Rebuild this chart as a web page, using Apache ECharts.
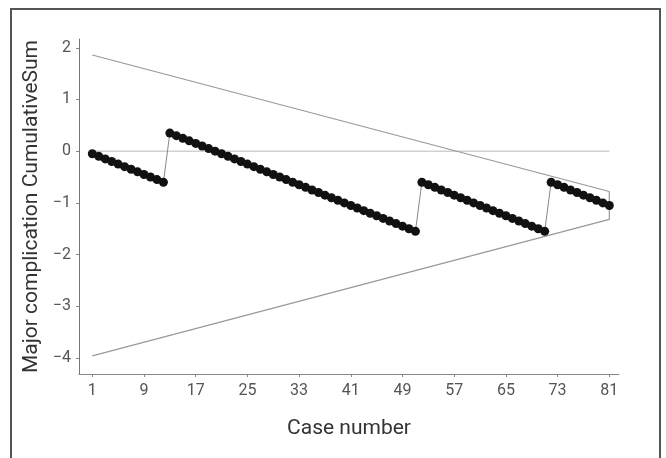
<!DOCTYPE html>
<html>
<head>
<meta charset="utf-8">
<script src="https://cdn.jsdelivr.net/npm/echarts@6/dist/echarts.min.js"></script>
<style>
  html, body { margin: 0; padding: 0; background: #fff; }
  #chart { width: 666px; height: 458px; }
</style>
</head>
<body>
<div id="chart"></div>
<script>
// cumulative sum per case (case number = index + 1)
var cusum = [
    -0.05, -0.10, -0.15, -0.20, -0.25, -0.30, -0.35, -0.40, -0.45, -0.50, -0.55, -0.60,
    0.35, 0.30, 0.25, 0.20, 0.15, 0.10, 0.05, 0.00, -0.05, -0.10, -0.15, -0.20, -0.25,
    -0.30, -0.35, -0.40, -0.45, -0.50, -0.55, -0.60, -0.65, -0.70, -0.75, -0.80, -0.85,
    -0.90, -0.95, -1.00, -1.05, -1.10, -1.15, -1.20, -1.25, -1.30, -1.35, -1.40, -1.45,
    -1.50, -1.55,
    -0.60, -0.65, -0.70, -0.75, -0.80, -0.85, -0.90, -0.95, -1.00, -1.05, -1.10, -1.15,
    -1.20, -1.25, -1.30, -1.35, -1.40, -1.45, -1.50, -1.55,
    -0.60, -0.65, -0.70, -0.75, -0.80, -0.85, -0.90, -0.95, -1.00, -1.05
];
// V-mask boundary: upper line, closing edge at last case, lower line
var maskLine = [[1, 1.86], [81, -0.78], [81, -1.32], [1, -3.96]];
var zeroLine = [[1, 0], [81, 0]];
var xTicks = [1, 9, 17, 25, 33, 41, 49, 57, 65, 73, 81];
var yTicks = [-4, -3, -2, -1, 0, 1, 2];

var myChart = echarts.init(document.getElementById('chart'));
var font = 'Roboto, "Liberation Sans", sans-serif';

var points = cusum.map(function (v, i) {
    return [i + 1, v];
});

var option = {
    animation: false,
    grid: { left: 79, right: 47, top: 39, bottom: 84 },
    graphic: [{
        type: 'rect',
        shape: { x: 11, y: 9, width: 649, height: 470 },
        style: { fill: 'none', stroke: '#555', lineWidth: 2 },
        silent: true
    }],
    xAxis: {
        type: 'value',
        min: -1.06,
        max: 82.5,
        name: 'Case number',
        nameLocation: 'middle',
        nameGap: 44,
        nameTextStyle: { fontFamily: font, fontSize: 21, color: '#333' },
        splitLine: { show: false },
        axisLine: { onZero: false, lineStyle: { color: '#888', width: 1 } },
        axisTick: { show: true, customValues: xTicks, length: 3, lineStyle: { color: '#888' } },
        axisLabel: {
            customValues: xTicks,
            fontFamily: font,
            fontSize: 16,
            color: '#555',
            margin: 9
        }
    },
    yAxis: {
        type: 'value',
        min: -4.31,
        max: 2.17,
        name: 'Major complication CumulativeSum',
        nameLocation: 'middle',
        nameGap: 29,
        nameTextStyle: { fontFamily: font, fontSize: 21, color: '#333' },
        splitLine: { show: false },
        axisLine: { show: true, onZero: false, lineStyle: { color: '#777', width: 1 } },
        axisTick: { show: true, customValues: yTicks, length: 3, lineStyle: { color: '#888' } },
        axisLabel: {
            customValues: yTicks,
            fontFamily: font,
            fontSize: 16,
            color: '#555',
            margin: 8,
            formatter: function (v) {
                return String(v).replace('-', '\u2212');
            }
        }
    },
    series: [
        {
            type: 'line',
            data: zeroLine,
            symbol: 'none',
            lineStyle: { color: '#d0d0d0', width: 1.5 },
            silent: true
        },
        {
            type: 'line',
            data: maskLine,
            symbol: 'none',
            lineStyle: { color: '#999', width: 1.2 },
            silent: true
        },
        {
            type: 'line',
            data: points,
            symbol: 'circle',
            symbolSize: 9,
            showAllSymbol: true,
            itemStyle: { color: '#111' },
            lineStyle: { color: '#888', width: 1 }
        }
    ]
};

myChart.setOption(option);

window.addEventListener('resize', function () {
    myChart.resize();
});
</script>
</body>
</html>
